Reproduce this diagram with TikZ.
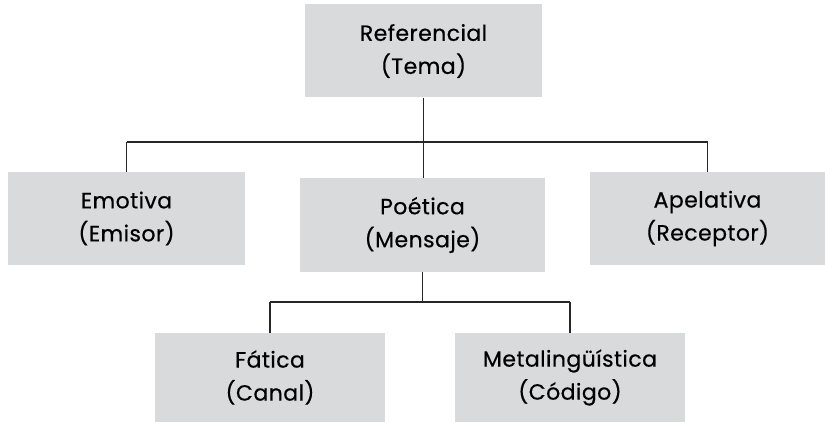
\documentclass[tikz,border=0pt]{standalone}
\usepackage{fontspec}
\setmainfont{Poppins}[FakeBold=0.5,LetterSpace=2]
\begin{document}
\begin{tikzpicture}[x=1pt,y=-1pt,
  fn/.style={draw=none,fill=boxgray,inner sep=0pt,
    text width=#1,align=center,text=black,
    font=\fontsize{22}{33}\selectfont},
  link/.style={draw=black!85,line width=1.2pt}]
\definecolor{boxgray}{RGB}{217,218,220}
\useasboundingbox (0,0) rectangle (825,422);
% function boxes
\node[fn=237pt,minimum height=93pt] (ref) at (423.5,51) {Referencial\\(Tema)};
\node[fn=237pt,minimum height=93pt] (emo) at (126.5,218.5) {Emotiva\\(Emisor)};
\node[fn=245pt,minimum height=94pt] (poe) at (422.5,225) {Poética\\(Mensaje)};
\node[fn=235pt,minimum height=93pt] (ape) at (707.5,218.5) {Apelativa\\(Receptor)};
\node[fn=230pt,minimum height=89pt] (fat) at (270,377.5) {Fática\\(Canal)};
\node[fn=230pt,minimum height=89pt] (met) at (570,377.5) {Metalingüística\\(Código)};
% branching points
\coordinate (j1) at (423.5,142);
\coordinate (j1l) at (126.5,142);
\coordinate (j1r) at (707.5,142);
\coordinate (j2) at (422.5,302);
\coordinate (j2l) at (270,302);
\coordinate (j2r) at (570,302);
% tree connectors
\draw[link] (ref.south) -- (j1);
\draw[link] (j1l) -- (j1r);
\draw[link] (j1l) -- (emo.north);
\draw[link] (j1r) -- (ape.north);
\draw[link] (j1) -- (j1 |- poe.north);
\draw[link] (poe.south) -- (j2);
\draw[link] (j2l) -- (j2r);
\draw[link] (j2l) -- (fat.north);
\draw[link] (j2r) -- (met.north);
\end{tikzpicture}
\end{document}
